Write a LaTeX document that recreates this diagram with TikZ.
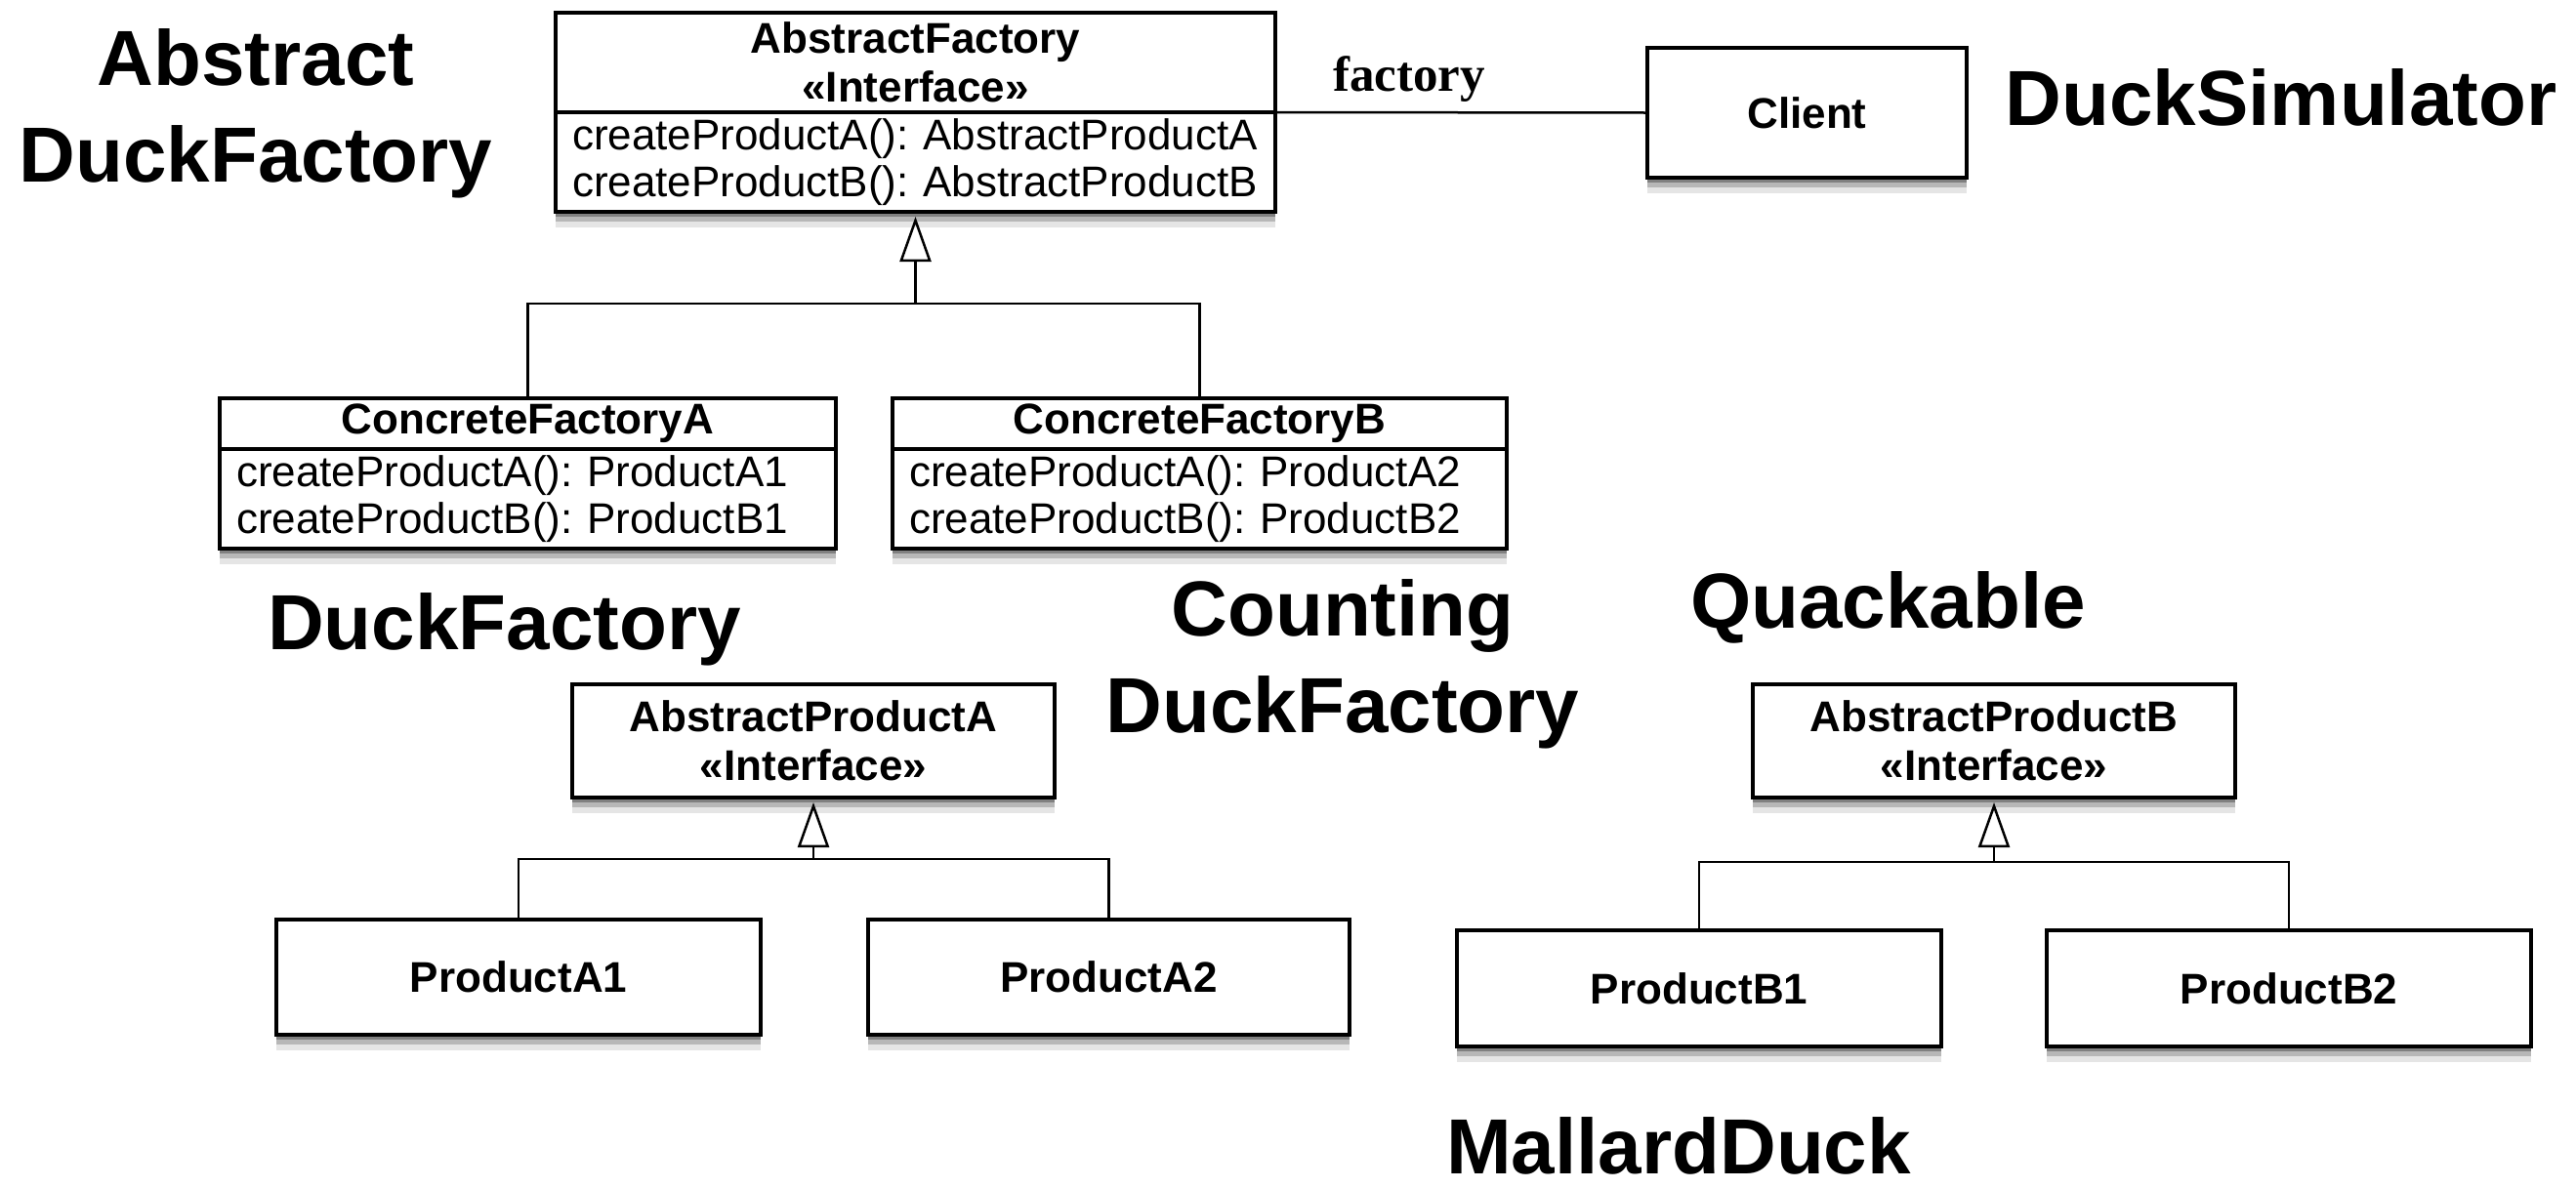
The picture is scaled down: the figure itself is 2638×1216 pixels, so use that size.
\documentclass[tikz,border=0pt]{standalone}
\usepackage{fontspec}
\setmainfont{Liberation Sans}
\newfontfamily\rolefont{Liberation Serif}
\usetikzlibrary{positioning, arrows.meta, shadows}

\begin{document}
\begin{tikzpicture}
  [x=1pt, y=-1pt,
   box/.style={draw, line width=3.5pt, fill=white, inner sep=0, outer sep=0,
     drop shadow={shadow xshift=0pt, shadow yshift=-5pt, fill=black, opacity=.3},
     drop shadow={shadow xshift=0pt, shadow yshift=-10pt, fill=black, opacity=.2},
     drop shadow={shadow xshift=0pt, shadow yshift=-16pt, fill=black, opacity=.1}},
   head/.style={box, align=center, font=\fontsize{44}{50}\selectfont\bfseries},
   ops/.style={box, align=left, inner xsep=17pt, font=\fontsize{44}{48}\selectfont\frenchspacing},
   duck/.style={align=center, inner sep=0, font=\fontsize{80}{99}\selectfont\bfseries},
   tree/.style={line width=2.5pt},
   gen/.style={tree, shorten >=5pt, -{Triangle[open, length=46pt, width=32pt]}}]

  \useasboundingbox (0,0) rectangle (2638,1216);

  % factories
  \node[head, minimum width=737pt, minimum height=102pt] (af) at (937.5,64) {AbstractFactory\\«Interface»};
  \node[ops, text width=703pt, minimum height=102pt, below=0pt of af] (afops) {createProductA(): AbstractProductA\\createProductB(): AbstractProductB};
  \node[head, minimum width=327pt, minimum height=133pt] (client) at (1850.5,115.5) {Client};

  \node[head, minimum width=631pt, minimum height=52pt] (cfa) at (540.5,434) {ConcreteFactoryA};
  \node[ops, text width=597pt, minimum height=102pt, below=0pt of cfa] (cfaops) {createProductA(): ProductA1\\createProductB(): ProductB1};
  \node[head, minimum width=629pt, minimum height=52pt] (cfb) at (1228.5,434) {ConcreteFactoryB};
  \node[ops, text width=595pt, minimum height=102pt, below=0pt of cfb] (cfbops) {createProductA(): ProductA2\\createProductB(): ProductB2};

  % products
  \node[head, minimum width=494pt, minimum height=116pt] (apa) at (833,759) {AbstractProductA\\«Interface»};
  \path (apa) ++(-302,242) node[head, minimum width=496pt, minimum height=118pt] (pa1) {ProductA1};
  \path (apa) ++(302.5,242) node[head, minimum width=493pt, minimum height=118pt] (pa2) {ProductA2};

  \node[head, minimum width=494pt, minimum height=116pt] (apb) at (2042,759) {AbstractProductB\\«Interface»};
  \path (apb) ++(-302,253.5) node[head, minimum width=496pt, minimum height=119pt] (pb1) {ProductB1};
  \path (apb) ++(302,253.5) node[head, minimum width=496pt, minimum height=119pt] (pb2) {ProductB2};

  % duck names
  \node[duck] (absduck) at (262,116) {Abstract\\DuckFactory};
  \node[duck, anchor=base] (sim) at (2336,128) {DuckSimulator};
  \node[duck, anchor=base] (duckfac) at (516.5,665) {DuckFactory};
  \node[duck] (countfac) at (1375,680.5) {Counting\\DuckFactory};
  \node[duck, anchor=base] (quack) at (1933.5,643) {Quackable};
  \node[duck, anchor=base] (mallard) at (1719,1202) {MallardDuck};

  % connectors
  \draw[tree] (af.south east) -- node[pos=0.36, above=9pt, inner sep=0, font=\rolefont\fontsize{51}{51}\selectfont\bfseries] (role) {factory} (client.west);

  \coordinate (afbar) at (937.5,311);
  \draw[tree] (cfa.north) |- (afbar) -| (cfb.north);
  \draw[gen] (afbar) -- (afops.south);

  \coordinate (apabar) at (833,880);
  \draw[tree] (pa1.north) |- (apabar) -| (pa2.north);
  \draw[gen] (apabar) -- (apa.south);

  \coordinate (apbbar) at (2042,883);
  \draw[tree] (pb1.north) |- (apbbar) -| (pb2.north);
  \draw[gen] (apbbar) -- (apb.south);
\end{tikzpicture}
\end{document}
